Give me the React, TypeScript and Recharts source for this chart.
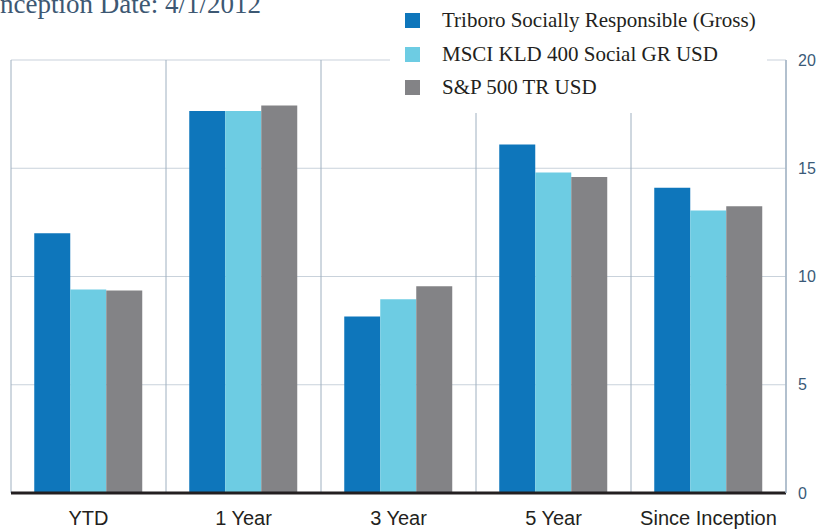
import React from 'react';
import { BarChart, Bar, XAxis, YAxis, CartesianGrid, Legend } from 'recharts';

const categories = ['YTD', '1 Year', '3 Year', '5 Year', 'Since Inception'];
const triboro = [12.0, 17.65, 8.15, 16.1, 14.1];
const msci = [9.4, 17.65, 8.95, 14.8, 13.05];
const sp500 = [9.35, 17.9, 9.55, 14.6, 13.25];
const yTicks = [0, 5, 10, 15, 20];
const seriesNames = ['Triboro Socially Responsible (Gross)', 'MSCI KLD 400 Social GR USD', 'S&P 500 TR USD'];
const seriesKeys = ['triboro', 'msci', 'sp500'];
const seriesColors = ['#0e76bb', '#6dcce3', '#838386'];
const titleText = 'Inception Date: 4/1/2012';

const data = categories.map((c, i) => ({
  name: c,
  triboro: triboro[i],
  msci: msci[i],
  sp500: sp500[i],
}));

const renderLegend = () => (
  <div style={{ paddingTop: 4, paddingLeft: 15 }}>
    {seriesNames.map((n, i) => (
      <div key={n} style={{ display: 'flex', alignItems: 'center', height: 33.5 }}>
        <div style={{ width: 15, height: 15, background: seriesColors[i], marginRight: 22 }} />
        <span style={{ fontFamily: '"Liberation Serif", serif', fontSize: 21, color: '#231f20', whiteSpace: 'nowrap' }}>{n}</span>
      </div>
    ))}
  </div>
);

const vGen = ({ offset }: any) => {
  const out: number[] = [];
  for (let i = 0; i <= categories.length; i++) out.push(offset.left + (i * offset.width) / categories.length);
  return out;
};

export default function App() {
  return (
    <div style={{ position: 'absolute', left: 0, top: 0, width: 816, height: 529, overflow: 'hidden', background: '#fff' }}>
      <BarChart
        width={816}
        height={529}
        data={data}
        margin={{ top: 60, right: 0, bottom: 0, left: 11 }}
        barCategoryGap="15%"
        barGap={0}
      >
        <CartesianGrid vertical={false} stroke="#c9d2db" strokeWidth={1.2} />
        <CartesianGrid horizontal={false} stroke="#9fb0c0" strokeWidth={1} verticalCoordinatesGenerator={vGen} />
        <XAxis
          dataKey="name"
          height={36}
          tickLine={false}
          tickSize={0}
          tickMargin={18}
          axisLine={{ stroke: '#231f20', strokeWidth: 3 }}
          tick={{ fill: '#231f20', fontSize: 20, fontFamily: '"Liberation Sans", sans-serif' }}
          interval={0}
        />
        <YAxis
          orientation="right"
          width={30}
          domain={[0, 20]}
          ticks={yTicks}
          tickLine={false}
          tickSize={0}
          tickMargin={12}
          axisLine={{ stroke: '#a9b9c8', strokeWidth: 1.5 }}
          tick={{ fill: '#3a5a78', fontSize: 16, fontFamily: '"Liberation Sans", sans-serif' }}
        />
        <Legend
          layout="vertical"
          align="center"
          verticalAlign="middle"
          content={renderLegend}
          wrapperStyle={{ position: 'absolute', left: 390, top: 0, width: 377, height: 113, background: '#fff' }}
        />
        {seriesKeys.map((k, i) => (
          <Bar key={k} dataKey={k} name={seriesNames[i]} fill={seriesColors[i]} isAnimationActive={false} />
        ))}
      </BarChart>
      <div
        style={{
          position: 'absolute',
          left: -9,
          top: -9,
          fontFamily: '"Liberation Serif", serif',
          fontSize: 27,
          lineHeight: '27px',
          color: '#3d5873',
          whiteSpace: 'nowrap',
        }}
      >
        {titleText}
      </div>
    </div>
  );
}
